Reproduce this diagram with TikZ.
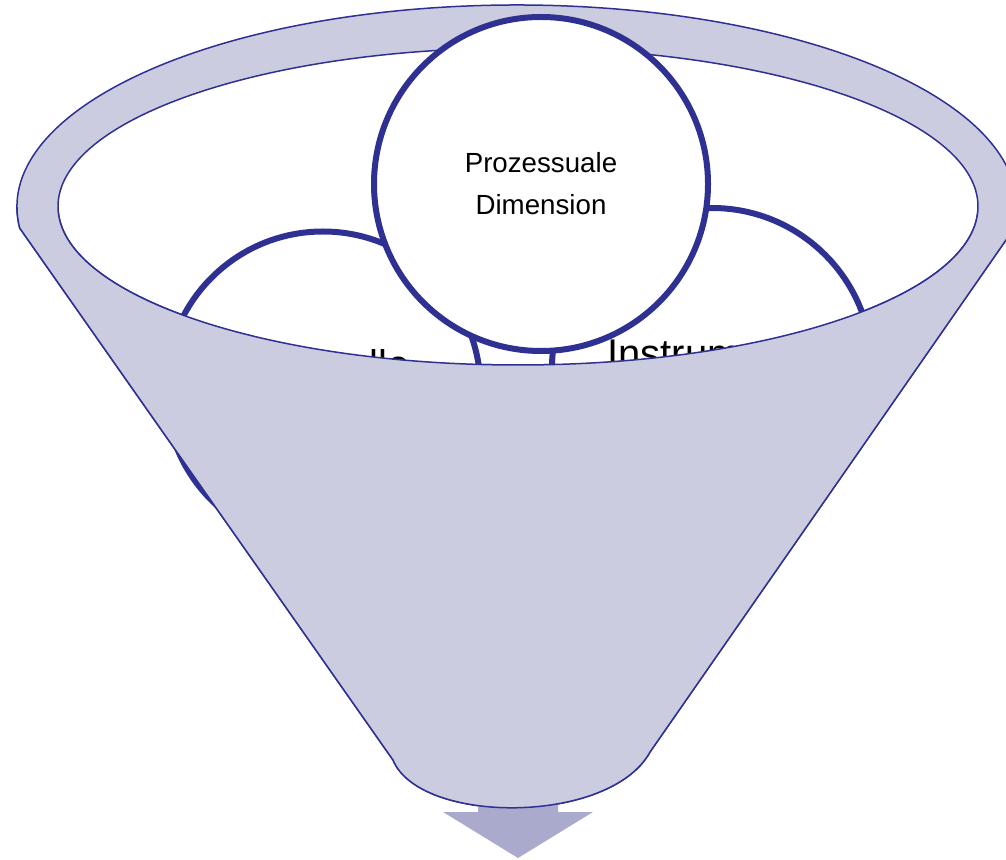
\documentclass[tikz,border=0pt]{standalone}
\usepackage{fontspec}
\setmainfont{Liberation Sans}
\definecolor{rimblue}{RGB}{46,49,146}
\definecolor{funnelfill}{RGB}{204,204,224}
\definecolor{arrowfill}{RGB}{170,170,204}
\begin{document}
\begin{tikzpicture}[x=0.5pt,y=-0.5pt,
  ring/.style={circle,draw=rimblue,line width=3pt,fill=white,inner sep=0pt,
    align=center,font=\fontsize{13.85}{21}\selectfont},
  edge/.style={draw=rimblue,line width=0.75pt},
  dimtext/.style={inner sep=0pt,font=\fontsize{20}{24}\selectfont}]
\useasboundingbox (0,0) rectangle (1006,860);
\clip (0,0) rectangle (1006,860);

\filldraw[edge,fill=funnelfill] (19.7,228.1)
  arc[start angle=174,end angle=366,x radius=500,y radius=202]
  -- (650,752) .. controls (610,825) and (420,825) .. (393,760) -- cycle;
\filldraw[edge,fill=white] (518,206.5) ellipse[x radius=460,y radius=158.5];

\node[ring,minimum size=157.5pt] (struk) at (323,389) {};
\node[ring,minimum size=160pt] (instr) at (712,368) {};
\node[dimtext,anchor=base east] (strukt) at (410,379) {Strukturelle};
\node[dimtext,anchor=base west] (instrt) at (607,368) {Instrumentelle};
\node[ring,minimum size=167pt] (proz) at (541,184) {Prozessuale\\Dimension};

\fill[arrowfill] (478,790) -- (558,790) -- (558,812) -- (593,812) -- (518,858)
  -- (443,812) -- (478,812) -- cycle;

\fill[funnelfill] (19.7,228.1) -- (393,760) .. controls (420,825) and (610,825) .. (650,752)
  -- (1014.3,228.1) arc[start angle=6,end angle=0,x radius=500,y radius=202]
  -- (978,206.5) arc[start angle=0,end angle=180,x radius=460,y radius=158.5]
  -- (17,207) arc[start angle=180,end angle=174,x radius=500,y radius=202] -- cycle;
\draw[edge] (978,206.5) arc[start angle=0,end angle=180,x radius=460,y radius=158.5];
\draw[edge] (17,207) arc[start angle=180,end angle=174,x radius=500,y radius=202]
  -- (393,760) .. controls (420,825) and (610,825) .. (650,752) -- (1014.3,228.1);
\end{tikzpicture}
\end{document}
